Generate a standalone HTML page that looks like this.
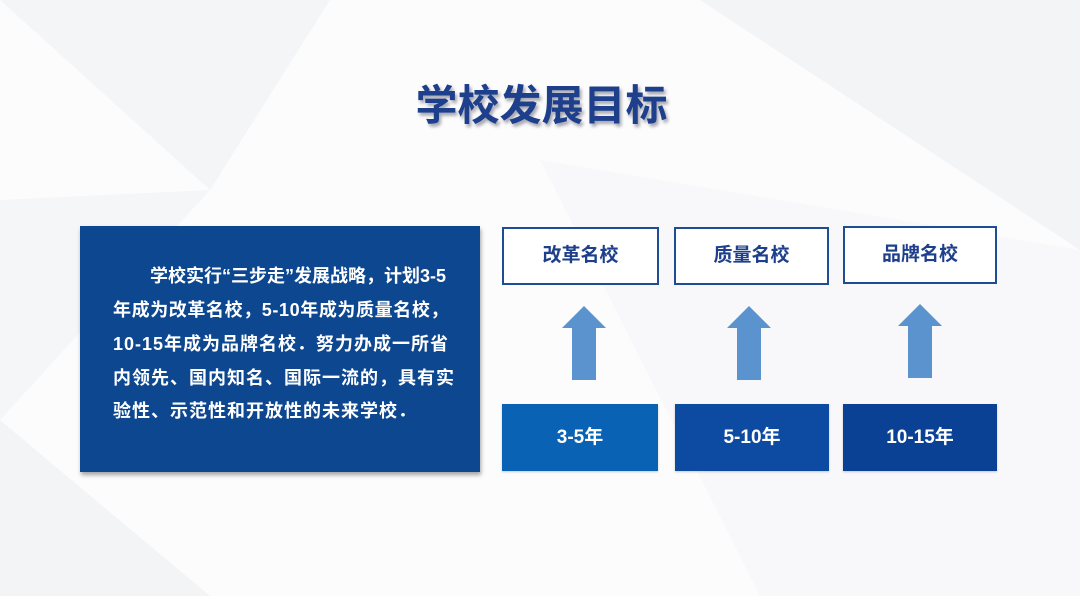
<!DOCTYPE html>
<html><head><meta charset="utf-8"><style>
*{margin:0;padding:0;box-sizing:border-box}
body{width:1080px;height:596px;overflow:hidden;background:#fcfcfd;position:relative;font-family:"Liberation Sans","Noto Sans CJK SC",sans-serif;font-weight:bold}
.abs{position:absolute}
.title{left:0;width:1083px;top:80px;text-align:center;font-size:42px;color:#1d3f8c;text-shadow:2px 3px 3px rgba(0,0,30,.35);line-height:52px}
.panel{left:80px;top:226px;width:400px;height:246px;background:#0d4790;box-shadow:1px 3px 4px rgba(0,0,0,.35)}
.ln{left:113px;color:#fff;font-size:18px;letter-spacing:1px;line-height:22px;white-space:nowrap}
.tb{height:58px;border:2px solid #1e4c97;background:#fff;color:#1d3f8c;font-size:19px;text-align:center;line-height:54px}
.bb{top:404px;height:67px;color:#fff;font-size:19px;text-align:center;line-height:67px;box-shadow:0 1px 2px rgba(0,0,0,.2)}
</style></head><body>
<svg class="abs" style="left:0;top:0" width="1080" height="596">
<polygon points="0,0 330,0 210,190" fill="#f4f5f7"/>
<polygon points="0,200 210,190 0,420" fill="#f5f6f8"/>
<polygon points="700,0 1080,0 1080,250" fill="#f3f4f6"/>
<polygon points="540,160 1080,250 1080,596 760,596" fill="#f8f8fa"/>
<polygon points="0,420 210,596 0,596" fill="#f3f4f6"/>
</svg>
<div class="abs title">学校发展目标</div>
<div class="abs panel"></div>
<div class="abs ln" style="top:265px;left:150px;letter-spacing:0px">学校实行“三步走”发展战略，计划3-5</div>
<div class="abs ln" style="top:299px;letter-spacing:0.6px">年成为改革名校，5-10年成为质量名校，</div>
<div class="abs ln" style="top:333px">10-15年成为品牌名校．努力办成一所省</div>
<div class="abs ln" style="top:367px">内领先、国内知名、国际一流的，具有实</div>
<div class="abs ln" style="top:400px">验性、示范性和开放性的未来学校．</div>

<div class="abs tb" style="left:502px;top:227px;width:157px">改革名校</div>
<div class="abs tb" style="left:674px;top:227px;width:155px">质量名校</div>
<div class="abs tb" style="left:843px;top:226px;width:154px">品牌名校</div>

<svg class="abs" style="left:0;top:0" width="1080" height="596">
<g fill="#5b93cf">
<polygon points="584,306 606,328 596,328 596,380 572,380 572,328 562,328"/>
<polygon points="749,306 771,328 761,328 761,380 737,380 737,328 727,328"/>
<polygon points="920,304 942,326 932,326 932,378 908,378 908,326 898,326"/>
</g>
</svg>

<div class="abs bb" style="left:502px;width:156px;background:#0a62b4">3-5年</div>
<div class="abs bb" style="left:675px;width:154px;background:#0d4ba3">5-10年</div>
<div class="abs bb" style="left:843px;width:154px;background:#0a4194">10-15年</div>
</body></html>
